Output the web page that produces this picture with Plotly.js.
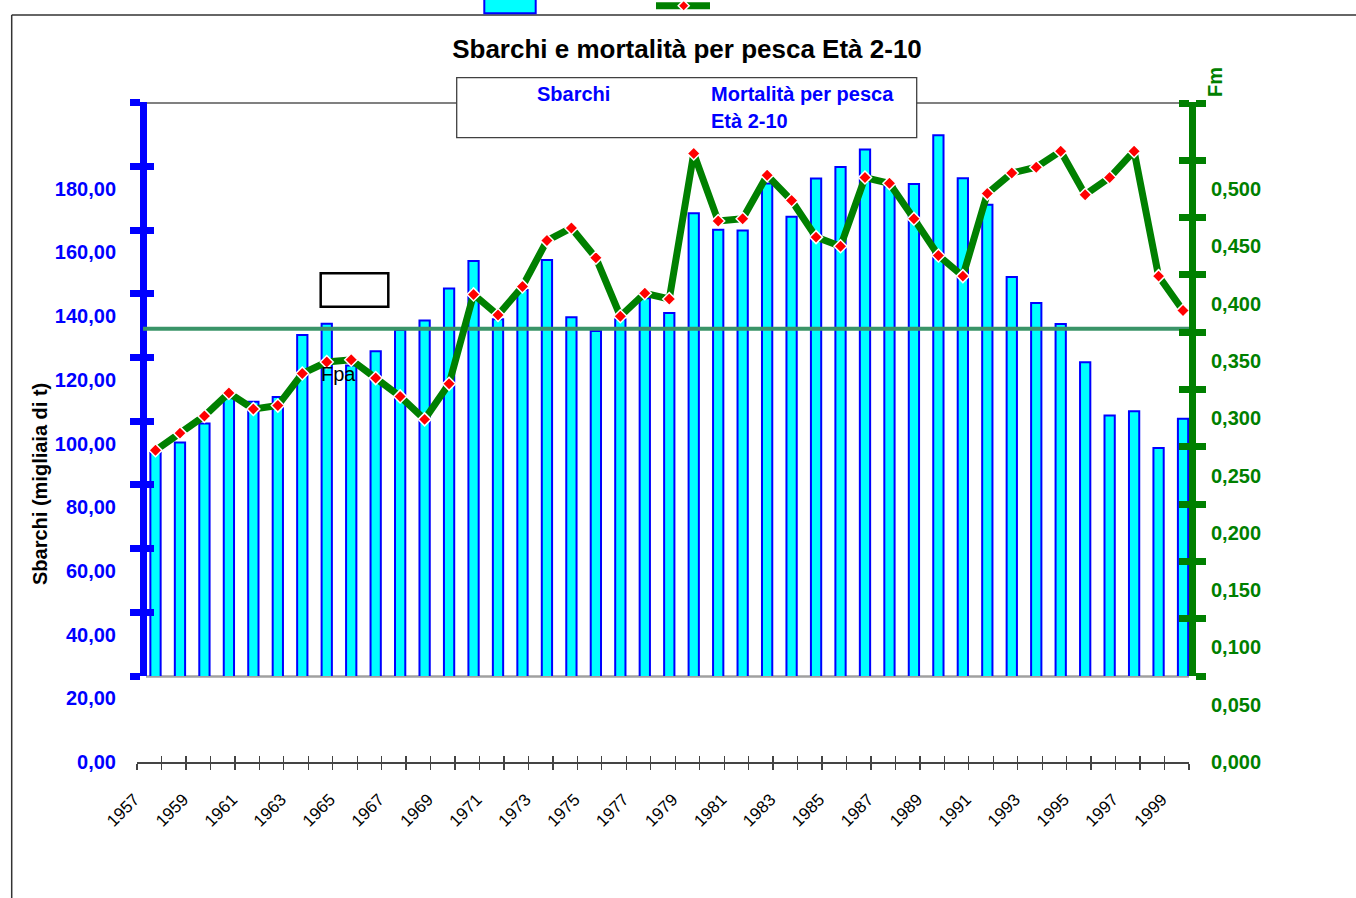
<!DOCTYPE html>
<html>
<head>
<meta charset="utf-8">
<script src="https://cdn.plot.ly/plotly-3.0.1.min.js"></script>
<style>html,body{margin:0;padding:0;background:#fff;}#chart{width:1356px;height:898px;}</style>
</head>
<body>
<div id="chart"></div>
<script>
// ---- data ----
var years = [1957,1958,1959,1960,1961,1962,1963,1964,1965,1966,1967,1968,1969,1970,1971,1972,1973,1974,1975,1976,1977,1978,1979,1980,1981,1982,1983,1984,1985,1986,1987,1988,1989,1990,1991,1992,1993,1994,1995,1996,1997,1998,1999];
var sbarchi = [97.1,100.3,106.3,114.2,113.1,114.6,134.1,137.6,124.5,129.0,135.6,138.6,148.7,157.3,139.0,148.2,157.6,139.6,135.3,139.0,145.6,141.0,172.3,167.1,166.9,181.6,171.2,183.2,186.8,192.3,180.8,181.5,196.8,183.3,175.0,152.3,144.1,137.5,125.5,108.8,110.1,98.6,107.8];
var mortalita = [0.272,0.287,0.302,0.322,0.308,0.311,0.339,0.349,0.351,0.335,0.319,0.299,0.330,0.408,0.390,0.415,0.455,0.466,0.440,0.389,0.409,0.404,0.531,0.472,0.474,0.512,0.490,0.458,0.450,0.510,0.505,0.474,0.442,0.424,0.496,0.514,0.519,0.533,0.495,0.510,0.533,0.424,0.394];
var fpa = 0.378;
var labelYears = [1957,1959,1961,1963,1965,1967,1969,1971,1973,1975,1977,1979,1981,1983,1985,1987,1989,1991,1993,1995,1997,1999];
var leftTicks = [0,20,40,60,80,100,120,140,160,180];
var rightTicks = [0,0.05,0.1,0.15,0.2,0.25,0.3,0.35,0.4,0.45,0.5];

var titleText = 'Sbarchi e mortalità per pesca Età 2-10';
var nameSbarchi = 'Sbarchi';
var nameMort = 'Mortalità per pesca';
var nameMort2 = 'Età 2-10';
var yTitle = 'Sbarchi (migliaia di t)';
var y2Title = 'Fm';
var fpaLabel = 'Fpa';

// ---- geometry / style ----
var W = 1356, H = 898;
var PL = 137, PR = 1189, PT = 102, PB = 762;
var PW = PR - PL, PH = PB - PT;
var pxYear = PW / years.length;
var xr0 = years[0] - 18.5 / pxYear;
var xr1 = xr0 + years.length;
var leftScale = 3.185, rightScale = 1146;
var innerBottomPx = 676;
var bf = (PB - innerBottomPx) / PH;
var yLeftTop = PH / leftScale, yLeftInner = (PB - innerBottomPx) / leftScale;
var yRightTop = PH / rightScale, yRightInner = (PB - innerBottomPx) / rightScale;

function X(p){ return (p - PL) / PW; }
function Y(p){ return (PB - p) / PH; }

var FONT = 'Arial, "Liberation Sans", sans-serif';
var BLUE = '#0000FF', GREEN = '#008000', CYAN = '#00FFFF';
var TR = 'rgba(0,0,0,0)';
var blueAxisPos = X(142.8);

var traces = [
  {type:'bar', x:years, y:sbarchi, xaxis:'x', yaxis:'y3', width:0.42,
   marker:{color:CYAN, line:{color:BLUE, width:2}}, name:nameSbarchi, hoverinfo:'x+y'},
  {type:'scatter', mode:'lines+markers', x:years, y:mortalita, xaxis:'x', yaxis:'y4',
   line:{color:GREEN, width:7}, marker:{symbol:'diamond', size:10, color:'#FF0000', line:{color:'#FFFFFF', width:1.5}},
   cliponaxis:false, name:nameMort},
  // empty helpers so the decorative / label axes exist
  {type:'scatter', x:[], y:[], xaxis:'x', yaxis:'y', showlegend:false},
  {type:'scatter', x:[], y:[], xaxis:'x', yaxis:'y2', showlegend:false},
  {type:'scatter', x:[], y:[], xaxis:'x', yaxis:'y5', showlegend:false},
  {type:'scatter', x:[], y:[], xaxis:'x', yaxis:'y6', showlegend:false},
  {type:'scatter', x:[], y:[], xaxis:'x2', yaxis:'y', showlegend:false},
  {type:'scatter', x:[], y:[], xaxis:'x3', yaxis:'y', showlegend:false}
];

var xBase = {range:[xr0, xr1], showgrid:false, zeroline:false, fixedrange:true};
function ext(a, b){ var o = {}; for (var k in a) o[k] = a[k]; for (var k2 in b) o[k2] = b[k2]; return o; }

var layout = {
  width:W, height:H,
  margin:{l:PL, r:W-PR, t:PT, b:H-PB, autoexpand:false},
  paper_bgcolor:'#FFFFFF', plot_bgcolor:TR,
  separators:',.',
  showlegend:false,
  font:{family:FONT, color:'#000'},
  title:{text:titleText, font:{family:FONT, size:26, color:'#000', weight:'bold'},
         x:687/W, xref:'container', xanchor:'center', y:1-49/H, yref:'container', yanchor:'middle'},
  xaxis: ext(xBase, {anchor:'y', domain:[0,1], showline:true, linecolor:'#444', linewidth:1.5,
         ticks:'outside', ticklen:6, tickwidth:1.3, tickcolor:'#444', tickmode:'linear', tick0:xr0, dtick:1,
         showticklabels:false}),
  xaxis2: ext(xBase, {overlaying:'x', anchor:'y', showline:false, ticks:'inside', ticklen:6, tickwidth:1.3,
         tickcolor:'#444', tickmode:'linear', tick0:xr0, dtick:1, showticklabels:false}),
  xaxis3: ext(xBase, {overlaying:'x', anchor:'y', showline:false,
         tickmode:'array', tickvals:labelYears, ticktext:labelYears.map(String), tickangle:-45,
         ticklabelshift:-21,
         ticks:'outside', ticklen:20, tickcolor:TR, tickfont:{family:FONT, size:17, color:'#000'}}),
  yaxis: {domain:[0,1], anchor:'x', range:[0, yLeftTop], showgrid:false, zeroline:false, showline:false,
         tickmode:'array', tickvals:leftTicks, tickformat:'.2f', ticks:'outside', ticklen:16, tickcolor:TR,
         tickfont:{family:FONT, size:20, color:BLUE, weight:'bold'}},
  yaxis2: {overlaying:'y', side:'right', anchor:'x', range:[0, yRightTop], showgrid:false, zeroline:false, showline:false,
         tickmode:'array', tickvals:rightTicks, tickformat:'.3f', ticks:'outside', ticklen:17, tickcolor:TR,
         tickfont:{family:FONT, size:20, color:GREEN, weight:'bold'}},
  yaxis3: {domain:[bf,1], anchor:'free', position:blueAxisPos, side:'left', range:[yLeftInner, yLeftTop],
         showgrid:false, zeroline:false, showline:true, linecolor:BLUE, linewidth:7,
         ticks:'outside', ticklen:10, tickwidth:7, tickcolor:BLUE, tickmode:'linear', tick0:27, dtick:20,
         showticklabels:false},
  yaxis5: {overlaying:'y3', anchor:'free', position:blueAxisPos, side:'left', range:[yLeftInner, yLeftTop],
         showgrid:false, zeroline:false, showline:false,
         ticks:'inside', ticklen:10, tickwidth:7, tickcolor:BLUE, tickmode:'linear', tick0:27, dtick:20,
         showticklabels:false},
  yaxis4: {domain:[bf,1], anchor:'x', side:'right', range:[yRightInner, yRightTop],
         showgrid:false, zeroline:false, showline:true, linecolor:GREEN, linewidth:7,
         ticks:'outside', ticklen:10, tickwidth:7, tickcolor:GREEN, tickmode:'linear', tick0:0.075, dtick:0.05,
         showticklabels:false},
  yaxis6: {overlaying:'y4', anchor:'x', side:'right', range:[yRightInner, yRightTop],
         showgrid:false, zeroline:false, showline:false,
         ticks:'inside', ticklen:10, tickwidth:7, tickcolor:GREEN, tickmode:'linear', tick0:0.075, dtick:0.05,
         showticklabels:false},
  shapes: [
    // outer frame (top and left edges)
    {type:'line', xref:'paper', yref:'paper', x0:X(11.7), x1:X(1360), y0:Y(15), y1:Y(15), line:{color:'#333', width:1.5}, layer:'above'},
    {type:'line', xref:'paper', yref:'paper', x0:X(11.7), x1:X(11.7), y0:Y(15), y1:Y(905), line:{color:'#333', width:1.5}, layer:'above'},
    // plot-area gray borders
    {type:'line', xref:'paper', yref:'paper', x0:X(146), x1:X(1189), y0:Y(103), y1:Y(103), line:{color:'#808080', width:2}, layer:'below'},
    {type:'line', xref:'paper', yref:'paper', x0:X(146), x1:X(1189), y0:Y(676.5), y1:Y(676.5), line:{color:'#A0A0A0', width:2.5}, layer:'below'},
    // Fpa reference line (between bars and the Fm line)
    {type:'line', xref:'x', yref:'y4', x0:xr0 + 6/pxYear, x1:xr1, y0:fpa, y1:fpa, line:{color:'#3A9468', width:4}, layer:'below'},
    // legend box
    {type:'rect', xref:'paper', yref:'paper', x0:X(456.7), x1:X(916.7), y0:Y(77.7), y1:Y(137.7), fillcolor:'#FFFFFF', line:{color:'#404040', width:1.3}, layer:'above'},
    // empty box
    {type:'rect', xref:'paper', yref:'paper', x0:X(320.7), x1:X(388.3), y0:Y(273.3), y1:Y(306.7), fillcolor:'rgba(255,255,255,0)', line:{color:'#000', width:2.5}, layer:'above'},
    // cropped top legend keys
    {type:'rect', xref:'paper', yref:'paper', x0:X(484.3), x1:X(535.7), y0:Y(-5), y1:Y(13.3), fillcolor:CYAN, line:{color:BLUE, width:2}, layer:'above'},
    {type:'line', xref:'paper', yref:'paper', x0:X(656), x1:X(710), y0:Y(5.7), y1:Y(5.7), line:{color:GREEN, width:7}, layer:'above'},
    {type:'path', xref:'paper', yref:'paper', path:'M '+X(683.7)+' '+Y(0.2)+' L '+X(689.2)+' '+Y(5.7)+' L '+X(683.7)+' '+Y(11.2)+' L '+X(678.2)+' '+Y(5.7)+' Z',
     fillcolor:'#FF0000', line:{color:'#FFFFFF', width:1.5}, layer:'above'}
  ],
  annotations: [
    {xref:'paper', yref:'paper', x:X(573.5), y:Y(94.5), text:nameSbarchi, showarrow:false, xanchor:'center', yanchor:'middle',
     font:{family:FONT, size:20, color:BLUE, weight:'bold'}},
    {xref:'paper', yref:'paper', x:X(708.5), y:Y(94.5), text:nameMort, showarrow:false, xanchor:'left', yanchor:'middle',
     font:{family:FONT, size:20, color:BLUE, weight:'bold'}},
    {xref:'paper', yref:'paper', x:X(708.5), y:Y(120.8), text:nameMort2, showarrow:false, xanchor:'left', yanchor:'middle',
     font:{family:FONT, size:20, color:BLUE, weight:'bold'}},
    {xref:'paper', yref:'paper', x:X(319), y:Y(374), text:fpaLabel, showarrow:false, xanchor:'left', yanchor:'middle',
     font:{family:FONT, size:20, color:'#000'}},
    {xref:'paper', yref:'paper', x:X(1215), y:Y(82), text:y2Title, showarrow:false, textangle:-90, xanchor:'center', yanchor:'middle',
     font:{family:FONT, size:20, color:GREEN, weight:'bold'}},
    {xref:'paper', yref:'paper', x:X(40), y:Y(484), text:yTitle, showarrow:false, textangle:-90, xanchor:'center', yanchor:'middle',
     font:{family:FONT, size:20, color:'#000', weight:'bold'}}
  ]
};

Plotly.newPlot('chart', traces, layout, {displayModeBar:false, staticPlot:true});
</script>
</body>
</html>
